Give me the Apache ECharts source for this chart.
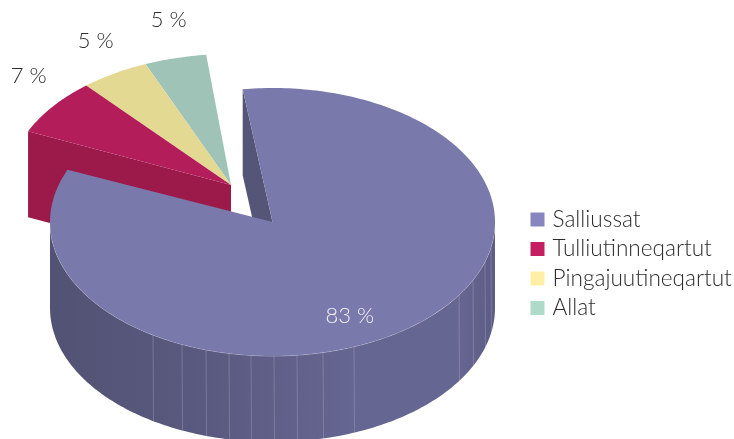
<!DOCTYPE html>
<html><head><meta charset="utf-8">
<style>html,body{margin:0;padding:0;background:#fff}#c{width:734px;height:439px}</style>
<script src="https://cdn.jsdelivr.net/npm/echarts@6/dist/echarts.min.js"></script>
</head><body><div id="c"></div>
<script>
const categories = ['Salliussat', 'Tulliutinneqartut', 'Pingajuutineqartut', 'Allat'];
const shares = [83.5, 7.0, 5.0, 4.5];
const shareLabels = ['83 %', '7 %', '5 %', '5 %'];

const topColors = ['#7a79ab', '#b31d5a', '#e4d993', '#9fc4b7'];
const legendColors = ['#8786bf', '#c41f60', '#fdf0a6', '#aedac9'];
const FONT = 'Lato';
const START = -7.7, RX = 222.5, DEPTH = 86;
// layout of each slice: pie centre, vertical radius, rotation, label anchor relative to the centre in radii
const layout = [
  {cx: 272.5, cy: 222, ry: 134, rot: 0, lx: 0.573, ly: 0.88, color: '#f0f0f6'},
  {cx: 231, cy: 185, ry: 131, rot: 1.3, lx: 1.135, ly: 1.385, color: '#2c2c2c'},
  {cx: 231, cy: 185, ry: 131, rot: 1.3, lx: 1.16, ly: 1.29, color: '#2c2c2c'},
  {cx: 231, cy: 185, ry: 131, rot: 1.3, lx: 1.12, ly: 1.30, color: '#2c2c2c'}
];
const seamX = [153, 182, 206, 229, 251, 274, 297, 323, 354, 459, 473, 485, 491];
const rad = d => d * Math.PI / 180;
const total = shares.reduce((a, b) => a + b, 0);

function rim(L, a) { return [L.cx + RX * Math.sin(rad(a)), L.cy - L.ry * Math.cos(rad(a))]; }
function arc(L, a0, a1) {
  const pts = [], n = Math.max(2, Math.ceil(Math.abs(a1 - a0)));
  for (let i = 0; i <= n; i++) pts.push(rim(L, a0 + (a1 - a0) * i / n));
  return pts;
}
function poly(points, fill, extra) {
  return Object.assign({type: 'polygon', shape: {points}, style: {fill}, silent: true}, extra || {});
}
function makeRender(idx) {
  return function (params, api) {
    const L = layout[idx];
    let before = 0;
    for (let i = 0; i < idx; i++) before += shares[i];
    const a0 = START + L.rot + before / total * 360;
    const a1 = a0 + api.value(0) / total * 360;
    const kids = [];
    if (idx === 0) {
      const p = rim(L, a0);
      kids.push(poly([p, [L.cx, L.cy], [L.cx, L.cy + DEPTH], [p[0], p[1] + DEPTH]], '#555577'));
      const top = arc(L, 90, 270);
      const bottom = top.map(q => [q[0], q[1] + DEPTH]).reverse();
      kids.push(poly(top.concat(bottom), {
        type: 'linear', x: 0, y: 0, x2: 1, y2: 0,
        colorStops: [{offset: 0, color: '#525274'}, {offset: 0.35, color: '#5a5a80'},
          {offset: 0.7, color: '#666693'}, {offset: 0.92, color: '#666692'}, {offset: 1, color: '#5c5c85'}]
      }));
      seamX.forEach(x => {
        const u = (x - L.cx) / RX;
        const y = L.cy + L.ry * Math.sqrt(1 - u * u);
        kids.push({type: 'line', silent: true, shape: {x1: x, y1: y, x2: x + 0.5, y2: y + DEPTH},
          style: {stroke: 'rgba(255,255,255,0.18)', lineWidth: 1}});
      });
      kids.push({type: 'polyline', silent: true, shape: {points: arc(L, 90, 270)},
        style: {fill: null, stroke: 'rgba(255,255,255,0.35)', lineWidth: 1}});
    }
    if (idx === 1) {
      const p = rim(L, a0);
      kids.push(poly([p, [L.cx, L.cy], [L.cx, L.cy + DEPTH], [p[0], p[1] + DEPTH]], '#9c1a4a'));
    }
    kids.push(poly([[L.cx, L.cy]].concat(arc(L, a0, a1)), topColors[idx]));
    const mid = rad((a0 + a1) / 2);
    kids.push({type: 'text', silent: true, z2: 10, style: {
      x: L.cx + RX * Math.sin(mid) * L.lx, y: L.cy - L.ry * Math.cos(mid) * L.ly,
      text: shareLabels[idx], align: 'center', verticalAlign: 'middle',
      fontFamily: FONT, fontWeight: 300, fontSize: 22, fill: L.color}});
    return {type: 'group', children: kids};
  };
}
const order = [3, 2, 1, 0];
const chart = echarts.init(document.getElementById('c'), null, {renderer: 'canvas'});
chart.setOption({
  animation: false,
  backgroundColor: '#fff',
  legend: {
    orient: 'vertical', left: 530.5, top: 208, padding: 0, itemWidth: 14, itemHeight: 14, itemGap: 6.5,
    selectedMode: false, icon: 'rect',
    textStyle: {fontFamily: FONT, fontWeight: 300, fontSize: 22.6, lineHeight: 22, color: '#2c2c2c', padding: [0, 0, 0, 3]},
    data: categories.map((name, i) => ({name, itemStyle: {color: legendColors[i], borderWidth: 0}}))
  },
  series: order.map((i, k) => ({
    type: 'custom', name: categories[i], coordinateSystem: 'none', z: k + 1,
    itemStyle: {color: legendColors[i]},
    renderItem: makeRender(i), data: [[shares[i]]]
  }))
});
</script></body></html>
